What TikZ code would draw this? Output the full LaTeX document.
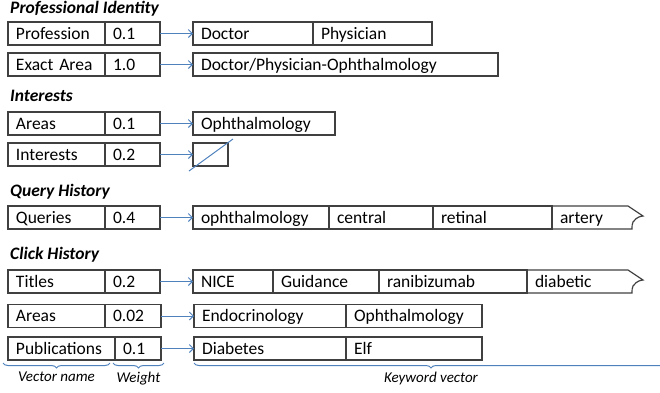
\documentclass[tikz,border=0pt]{standalone}
\usepackage{fontspec}
\setmainfont{Carlito}
\usepackage{xcolor}
\definecolor{CellGray}{RGB}{64, 64, 64}
\definecolor{LinkBlue}{RGB}{79, 129, 189}
\usepackage{tikz}
\usetikzlibrary{arrows.meta, positioning, calc, decorations.pathreplacing}

\begin{document}
\begin{tikzpicture}[
        x=1pt, y=-1pt,
        font=\fontsize{17.5}{20}\selectfont,
        cell/.style={rectangle, draw=CellGray, line width=1.2pt, inner xsep=8pt, inner ysep=0pt, outer sep=0pt,
            minimum height=23pt, minimum width=#1, text height=13pt, text depth=2pt,
            /utils/exec={\pgfmathsetlengthmacro\cellw{#1-16pt}}, text width=\cellw, align=left},
        opencell/.style={cell=#1, draw=none},
        section/.style={font=\fontsize{17.5}{20}\selectfont\bfseries\itshape, anchor=base west, inner sep=0pt},
        arrow/.style={-{Straight Barb[length=4pt, width=8pt]}, line width=1pt, LinkBlue},
        tornedge/.style={draw=CellGray, line width=1.2pt},
        bracket/.style={decorate, decoration={brace, mirror, amplitude=5pt}, line width=1pt, LinkBlue},
        tag/.style={font=\fontsize{15}{17}\selectfont\itshape, text=black}
    ]
        \clip (0,0) rectangle (660,392);

        % Section titles
        \node[section] (profid) at (10,13) {Professional Identity};
        \node[section] (inter) at (10,101) {Interests};
        \node[section] (query) at (10,196) {Query History};
        \node[section] (click) at (10,259) {Click History};

        % Professional Identity
        \node[cell=97pt, anchor=west] (prof) at (8,33.5) {Profession};
        \node[cell=55pt, right=0pt of prof] (profw) {0.1};
        \node[cell=120pt, right=33pt of profw] (doctor) {Doctor};
        \node[cell=119pt, right=0pt of doctor] (physician) {Physician};

        \node[cell=97pt, anchor=west] (exact) at (8,64.5) {Exact Area};
        \node[cell=55pt, right=0pt of exact] (exactw) {1.0};
        \node[cell=305pt, right=33pt of exactw] (docphys) {Doctor/Physician-Ophthalmology};

        % Interests
        \node[cell=97pt, anchor=west] (areas) at (8,123.5) {Areas};
        \node[cell=55pt, right=0pt of areas] (areasw) {0.1};
        \node[cell=142pt, right=33pt of areasw] (ophth) {Ophthalmology};

        \node[cell=97pt, anchor=west] (interests) at (8,154.5) {Interests};
        \node[cell=55pt, right=0pt of interests] (interestsw) {0.2};
        \node[cell=35pt, right=33pt of interestsw] (nointerest) {};

        % Query History
        \node[cell=97pt, anchor=west] (queries) at (8,217.5) {Queries};
        \node[cell=55pt, right=0pt of queries] (queriesw) {0.4};
        \node[cell=136pt, right=33pt of queriesw] (qophth) {ophthalmology};
        \node[cell=104pt, right=0pt of qophth] (central) {central};
        \node[cell=119pt, right=0pt of central] (retinal) {retinal};
        \node[opencell=76pt, right=0pt of retinal] (artery) {artery};

        % Click History
        \node[cell=97pt, anchor=west] (titles) at (8,281.5) {Titles};
        \node[cell=55pt, right=0pt of titles] (titlesw) {0.2};
        \node[cell=80pt, right=33pt of titlesw] (nice) {NICE};
        \node[cell=106pt, right=0pt of nice] (guidance) {Guidance};
        \node[cell=148pt, right=0pt of guidance] (ranibizumab) {ranibizumab};
        \node[opencell=101pt, right=0pt of ranibizumab] (diabetic) {diabetic};

        \node[cell=97pt, anchor=west] (careas) at (8,316) {Areas};
        \node[cell=56pt, right=0pt of careas] (careasw) {0.02};
        \node[cell=152pt, right=33pt of careasw] (endo) {Endocrinology};
        \node[cell=136pt, right=0pt of endo] (cophth) {Ophthalmology};

        \node[cell=107pt, anchor=west] (pubs) at (8,348.5) {Publications};
        \node[cell=46pt, right=0pt of pubs] (pubsw) {0.1};
        \node[cell=152pt, right=33pt of pubsw] (diabetes) {Diabetes};
        \node[cell=136pt, right=0pt of diabetes] (elf) {Elf};

        % Torn ends
        \draw[tornedge] (artery.north west) -- (artery.north east) -- ++(15,10)
            .. controls +(-7,1) and +(2,-2) .. ++(-10,6)
            .. controls +(-2,2) and +(1,-3) .. ++(-1,7) -- (artery.south west);
        \draw[tornedge] (diabetic.north west) -- (diabetic.north east) -- ++(15,10)
            .. controls +(-7,1) and +(2,-2) .. ++(-10,6)
            .. controls +(-2,2) and +(1,-3) .. ++(-1,7) -- (diabetic.south west);

        % Arrows
        \draw[arrow] (profw) -- (doctor);
        \draw[arrow] (exactw) -- (docphys);
        \draw[arrow] (areasw) -- (ophth);
        \draw[arrow] (interestsw) -- (nointerest);
        \draw[arrow] (queriesw) -- (qophth);
        \draw[arrow] (titlesw) -- (nice);
        \draw[arrow] (careasw) -- (endo);
        \draw[arrow] (pubsw) -- (diabetes);

        % Empty interests
        \draw[LinkBlue, line width=1pt] ($(nointerest.south west)+(-4,5)$) -- ($(nointerest.north east)+(5,-4)$);

        % Braces
        \coordinate (namel) at (3,363);
        \coordinate (namer) at (110,363);
        \coordinate (weightl) at (113,363);
        \coordinate (weightr) at (164,363);
        \coordinate (keyl) at (194,363);
        \coordinate (keyr) at (668,363);
        \draw[bracket] (namel) -- (namer) node[tag, midway, below=5pt] {Vector name};
        \draw[bracket] (weightl) -- (weightr) node[tag, midway, below=5pt] {Weight};
        \draw[bracket] (keyl) -- (keyr) node[tag, midway, below=5pt] {Keyword vector};
    \end{tikzpicture}
\end{document}
